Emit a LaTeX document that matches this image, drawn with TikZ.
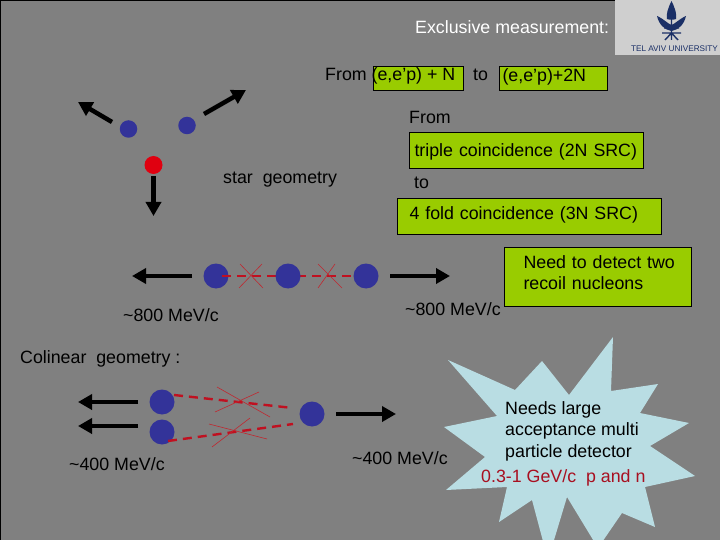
\documentclass[tikz,border=0pt]{standalone}
\usepackage{fontspec}
\setmainfont{Liberation Sans}
\definecolor{bg}{HTML}{808080}
\definecolor{boxgreen}{HTML}{99CC00}
\definecolor{nblue}{HTML}{333399}
\definecolor{nred}{HTML}{E00010}
\definecolor{dashred}{HTML}{C01020}
\definecolor{crossred}{HTML}{C02830}
\definecolor{starblue}{HTML}{B9DDE3}
\definecolor{logogray}{HTML}{CFCFCF}
\definecolor{logoblue}{HTML}{1A2F66}
\definecolor{darkredtext}{HTML}{A80F20}
\tikzset{
  txt/.style={anchor=base west,inner sep=0pt,font=\fontsize{17.8}{21.5}\selectfont,text=black},
  greenbox/.style={draw=black,line width=1pt,fill=boxgreen,anchor=north west,align=left,inner ysep=0pt,
     font=\fontsize{17.8}{21.5}\selectfont,text=black},
  ball/.style={circle,fill=nblue,inner sep=0pt,minimum size=#1},
  bigarrow/.style={line width=4.5pt,-{Triangle[length=14pt,width=15pt]},black},
  dashlink/.style={draw=dashred,line width=#1,dash pattern=on 9pt off 6pt},
  crossline/.style={draw=crossred,line width=0.6pt},
}
\usetikzlibrary{arrows.meta}
\begin{document}
\begin{tikzpicture}[x=1pt,y=-1pt]
\useasboundingbox (0,0) rectangle (720,540);
\fill[bg] (0,0) rectangle (720,540);
\draw[black,line width=1.5pt] (0.5,540) -- (0.5,0.5) -- (720,0.5);
% star
\begin{scope}
\clip (0,0) rectangle (720,540);
\fill[starblue] (613,337) -- (611,391) -- (658,384) -- (640,413) -- (689,423) -- (650,446) -- (695,476) -- (645,487) -- (655,527) -- (622,513) -- (598,548) -- (567,497) -- (548,560) -- (532,500) -- (499,522) -- (507,487) -- (446,490) -- (485,457) -- (444,427) -- (497,416) -- (448,360) -- (515,390) -- (542,361) -- (569,395) -- cycle;
\end{scope}
% logo
\fill[logogray] (615,0) rectangle (720,55);
\fill[logoblue] (671.5,1) .. controls (668,8) and (666,14) .. (667,19) .. controls (669,20) and (674,20) .. (676,19) .. controls (677,14) and (675,8) .. (671.5,1) -- cycle;
\fill[logoblue] (657,16) .. controls (664,19) and (668,24) .. (671.5,25) .. controls (675,24) and (679,19) .. (686,16) .. controls (684,25) and (678,30) .. (671.5,31) .. controls (665,30) and (659,25) .. (657,16) -- cycle;
\draw[logoblue,line width=1.4pt] (671.5,18) -- (671.5,40) (664,28) -- (679,28) (662,33) -- (681,33) (665,40) -- (671.5,33) -- (678,40);
\node[anchor=center,inner sep=0pt,text=logoblue,font=\fontsize{8.2}{9}\selectfont] (logotext) at (674.5,48.5) {TEL AVIV UNIVERSITY};
% boxes
\node[greenbox,inner xsep=3pt,text width=84pt,minimum width=90pt,minimum height=24.5pt] (b1) at (372.5,66) {};
\node[greenbox,inner xsep=3.5pt,text width=101pt,minimum width=108pt,text height=15pt,text depth=9.5pt] (b2) at (498.5,66) {(e,e’p)+2N};
\node[greenbox,inner xsep=5.5pt,text width=223pt,minimum width=234pt,text height=24pt,text depth=11.5pt] (b3) at (408.5,132.5) {triple coincidence (2N SRC)};
\node[greenbox,inner xsep=12.5pt,text width=239pt,minimum width=264pt,text height=21pt,text depth=14.5pt] (b4) at (396.5,198.5) {4 fold coincidence (3N SRC)};
\node[greenbox,inner xsep=4pt,text width=178.5pt,minimum width=186.5pt,text height=20.5pt,text depth=38.5pt] (b5) at (504,247) {\hspace*{15pt}Need to detect two\\\hspace*{15pt}recoil nucleons};
% texts
\node[txt,text=white] (t0) at (415,34) {Exclusive measurement:};
\node[txt] (t1) at (325,81) {From (e,e’p) + N};
\node[txt] (t2) at (473,81) {to};
\node[txt] (t3) at (409,124) {From};
\node[txt] (t4) at (223,184) {star\ \ geometry};
\node[txt] (t5) at (414,189) {to};
\node[txt] (t6) at (405,315) {\textasciitilde 800 MeV/c};
\node[txt] (t7) at (123,321) {\textasciitilde 800 MeV/c};
\node[txt] (t8) at (20,363) {Colinear\ \ geometry :};
\node[txt] (t9) at (69,470) {\textasciitilde 400 MeV/c};
\node[txt] (t10) at (352,464) {\textasciitilde 400 MeV/c};
\node[txt] (t11) at (505,414) {Needs large};
\node[txt] (t12) at (505,435) {acceptance multi};
\node[txt] (t13) at (505,457) {particle detector};
\node[txt,text=darkredtext] (t14) at (481,482) {0.3-1 GeV/c\ \ p and n};
% star geometry
\node[ball=17.5pt] (s1) at (128.5,129) {};
\node[ball=17.5pt] (s2) at (187,125.5) {};
\node[ball=18pt,fill=nred] (s3) at (153.5,165) {};
\coordinate (s1a) at (112,122); \coordinate (s1b) at (78,102);
\coordinate (s2a) at (204,114); \coordinate (s2b) at (246,90);
\coordinate (s3a) at (153.5,176); \coordinate (s3b) at (153.5,216);
\draw[bigarrow] (s1a) -- (s1b);
\draw[bigarrow] (s2a) -- (s2b);
\draw[bigarrow] (s3a) -- (s3b);
% colinear row
\node[ball=25pt] (c1) at (216,276) {};
\node[ball=25pt] (c3) at (366,276) {};
\coordinate (h1) at (222,276); \coordinate (h2) at (356,276);
\draw[dashlink=1.3pt] (h1) -- (h2);
\node[ball=25pt] (c2) at (288,276) {};
\coordinate (x1a) at (240,264); \coordinate (x1b) at (263,288);
\coordinate (x1c) at (262,264); \coordinate (x1d) at (239,288);
\coordinate (x2a) at (318,264); \coordinate (x2b) at (342,288);
\coordinate (x2c) at (335,264); \coordinate (x2d) at (318,288);
\draw[crossline] (x1a) -- (x1b) (x1c) -- (x1d) (x2a) -- (x2b) (x2c) -- (x2d);
\coordinate (a1) at (192,276); \coordinate (a2) at (132,276);
\coordinate (a3) at (390,276); \coordinate (a4) at (450,276);
\draw[bigarrow] (a1) -- (a2);
\draw[bigarrow] (a3) -- (a4);
% lower
\node[ball=25pt] (d1) at (162,402) {};
\node[ball=25pt] (d2) at (162,432) {};
\node[ball=25pt] (d3) at (312,414) {};
\coordinate (e1) at (174,395); \coordinate (e2) at (293,408);
\coordinate (e3) at (168,441); \coordinate (e4) at (293,424);
\draw[dashlink=2.4pt] (e1) -- (e2);
\draw[dashlink=2.4pt] (e3) -- (e4);
\coordinate (f1) at (217,387); \coordinate (f2) at (270,417);
\coordinate (f3) at (215,412); \coordinate (f4) at (259,392);
\coordinate (f5) at (209,424); \coordinate (f6) at (267,439);
\coordinate (f7) at (212,447); \coordinate (f8) at (250,418);
\draw[crossline] (f1) -- (f2) (f3) -- (f4) (f5) -- (f6) (f7) -- (f8);
\coordinate (g1) at (138,402); \coordinate (g2) at (78,402);
\coordinate (g3) at (138,426); \coordinate (g4) at (78,426);
\coordinate (g5) at (336,414); \coordinate (g6) at (396,414);
\draw[bigarrow] (g1) -- (g2);
\draw[bigarrow] (g3) -- (g4);
\draw[bigarrow] (g5) -- (g6);
\end{tikzpicture}
\end{document}
